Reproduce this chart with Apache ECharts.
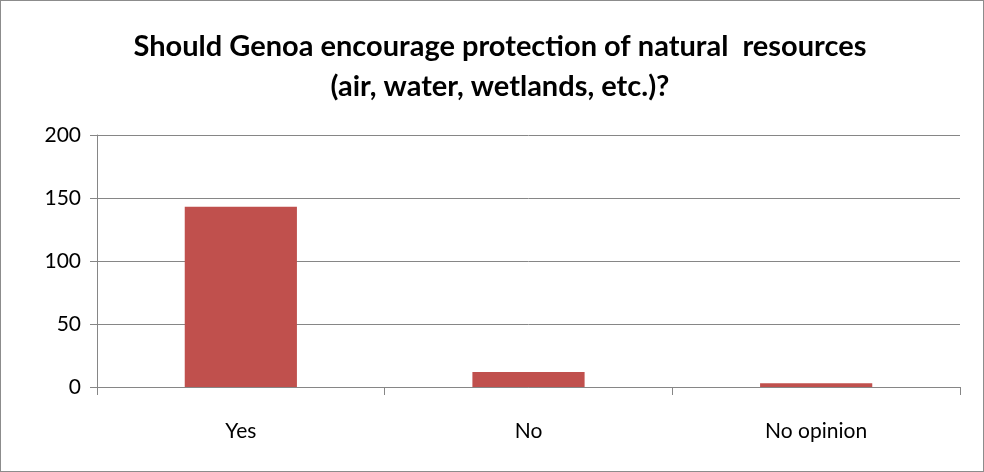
<!DOCTYPE html>
<html><head><meta charset="utf-8">
<script src="https://cdn.jsdelivr.net/npm/echarts@6/dist/echarts.min.js"></script>
<style>html,body{margin:0;padding:0;background:#fff}#c{width:984px;height:472px;box-sizing:border-box;border:1px solid #8c8c8c}</style>
</head><body><div id="c"></div>
<script>
const categories = ["Yes", "No", "No opinion"];
const values = [143, 12, 3];
const yTicks = [0, 50, 100, 150, 200];
const titleText = "Should Genoa encourage protection of natural  resources\n(air, water, wetlands, etc.)?";

const chart = echarts.init(document.getElementById('c'), null, {renderer: 'canvas'});
chart.setOption({
  animation: false,
  title: {
    text: titleText, left: 494, top: 21, textAlign: 'center',
    textStyle: {fontFamily: 'Lato', fontWeight: 'bold', fontSize: 29, color: '#000', lineHeight: 40}
  },
  grid: {left: 96, right: 23, top: 134, bottom: 84},
  xAxis: {
    type: 'category', data: categories,
    axisLine: {lineStyle: {color: '#868686', width: 1}},
    axisTick: {show: true, length: 8, interval: 0, lineStyle: {color: '#868686'}},
    axisLabel: {color: '#000', fontFamily: 'Lato', fontSize: 21, margin: 34}
  },
  yAxis: {
    type: 'value', min: yTicks[0], max: yTicks[yTicks.length - 1], interval: 50,
    axisLine: {show: true, lineStyle: {color: '#868686'}},
    axisTick: {show: true, length: 7, lineStyle: {color: '#868686'}},
    splitLine: {lineStyle: {color: '#868686', width: 1}},
    axisLabel: {color: '#000', fontFamily: 'Lato', fontSize: 21, margin: 16}
  },
  series: [{
    type: 'bar', data: values, barWidth: '39%',
    itemStyle: {color: '#c0504d'}
  }]
});
</script></body></html>
